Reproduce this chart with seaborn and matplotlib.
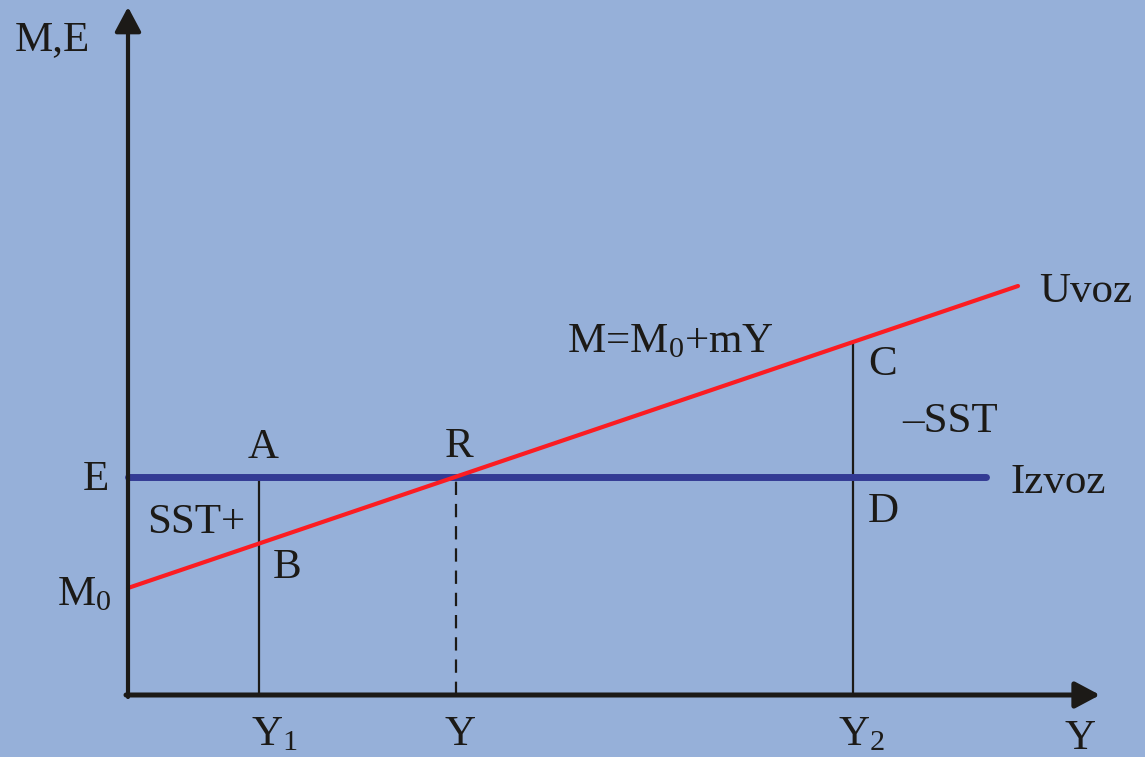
import numpy as np
import seaborn as sns
import matplotlib.pyplot as plt

# values (units: 1 = 100 px from the origin)
import_x = [0.0, 8.90]          # M = M0 + mY  (Uvoz)
import_y = [1.07, 4.09]
export_x = [0.0, 8.58]          # E  (Izvoz)
export_y = [2.18, 2.18]

income_labels = ["Y$_\\mathrm{1}$", "Y", "Y$_\\mathrm{2}$"]
income_x = [1.31, 3.28, 7.25]
income_top = [2.18, 2.18, 3.52]
income_dashed = [False, True, False]

axis_tip_x = 9.72
axis_tip_y = 6.88

bg = "#96b0d9"
ink = "#1c1a17"
red = "#fb1c22"
navy = "#333a94"

sns.set_theme(style="white", rc={"figure.facecolor": bg, "axes.facecolor": bg})
plt.rcParams["font.family"] = ["Liberation Serif", "DejaVu Serif"]
plt.rcParams["mathtext.fontset"] = "custom"
plt.rcParams["mathtext.rm"] = "Liberation Serif"
plt.rcParams["mathtext.it"] = "Liberation Serif:italic"

fig = plt.figure(figsize=(11.45, 7.57), dpi=100)
ax = fig.add_axes([0, 0, 1, 1])
ax.set_xlim(-1.28, 10.17)
ax.set_ylim(-0.62, 6.95)
ax.axis("off")

# axes with arrows
arrow = dict(arrowstyle="-|>,head_length=0.75,head_width=0.4", color=ink,
             lw=3.0, shrinkA=0, shrinkB=0, mutation_scale=20)
ax.annotate("", xy=(0, axis_tip_y), xytext=(0, -0.02), arrowprops=arrow)
ax.annotate("", xy=(axis_tip_x, 0), xytext=(-0.02, 0),
            arrowprops={**arrow, "lw": 3.6})

# vertical guides
for x, top, dashed in zip(income_x, income_top, income_dashed):
    sns.lineplot(x=[x, x], y=[0, top], ax=ax, color=ink, linewidth=1.6,
                 estimator=None, sort=False,
                 linestyle=(0, (6, 4)) if dashed else "-")

sns.lineplot(x=export_x, y=export_y, ax=ax, color=navy, linewidth=5,
             estimator=None, sort=False)
sns.lineplot(x=import_x, y=import_y, ax=ax, color=red, linewidth=3,
             estimator=None, sort=False)


def px_text(px, py, s):
    ax.text((px - 128) / 100, (695 - py) / 100, s, fontsize=31, color=ink,
            ha="left", va="baseline")


px_text(15, 50, "M,E")
px_text(83, 490, "E")
px_text(57, 605, "M$_\\mathrm{0}$")
px_text(147, 533, "SST+")
px_text(248, 458, "A")
px_text(273, 578, "B")
px_text(445, 457, "R")
px_text(567, 352, "M=M$_\\mathrm{0}$+mY")
px_text(1039, 302, "Uvoz")
px_text(868, 375, "C")
px_text(902, 432, "\u2013SST")
px_text(1010, 493, "Izvoz")
px_text(868, 522, "D")

for lab, left in zip(income_labels, [251, 444, 838]):
    px_text(left, 745, lab)
px_text(1064, 749, "Y")

fig.savefig("out.png", dpi=100, facecolor=bg)
